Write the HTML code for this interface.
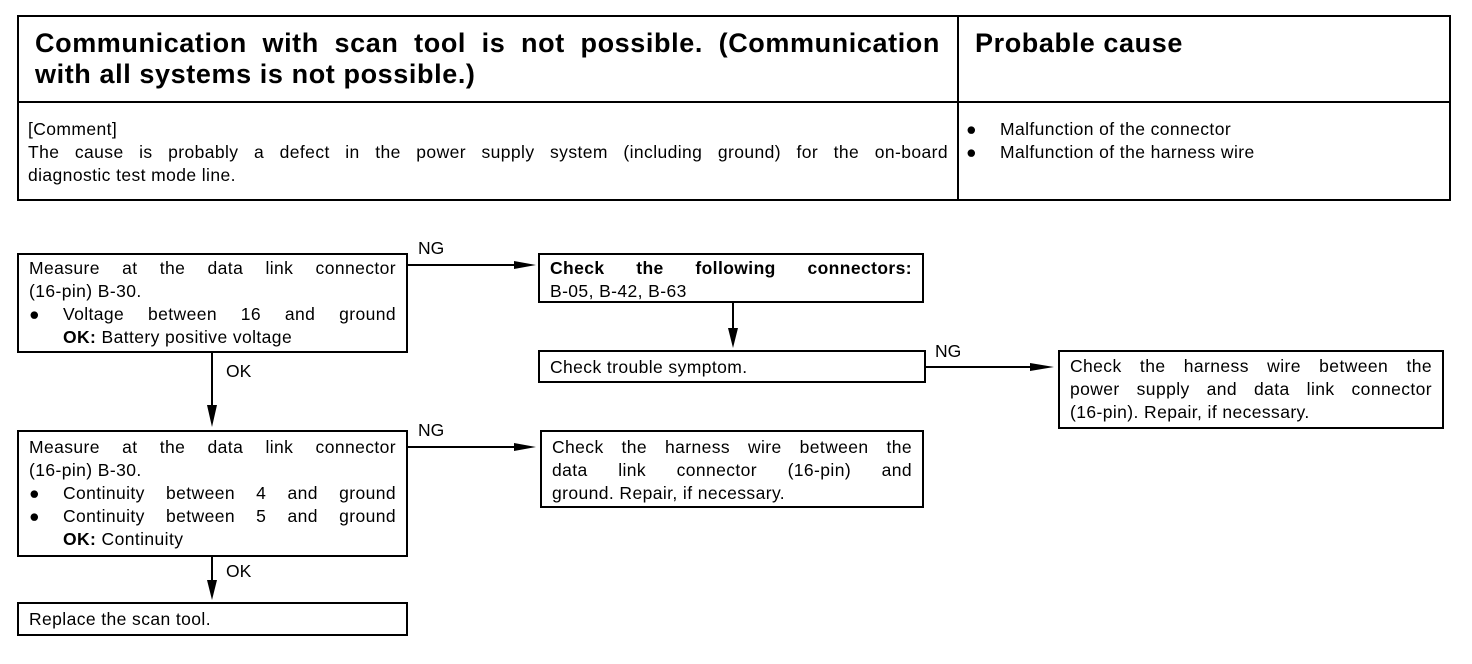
<!DOCTYPE html>
<html><head><meta charset="utf-8"><style>
*{margin:0;padding:0;box-sizing:border-box}
body{width:1472px;height:664px;background:#fff;position:relative;font-family:"Liberation Sans",Arial,sans-serif;color:#000;overflow:hidden}
.a{position:absolute}
.b{position:absolute;border:2px solid #000;background:#fff;font-size:17.5px;letter-spacing:0.4px;line-height:23px;padding:2px 10px 0 10px;text-align:justify}
.j{text-align:justify;text-align-last:justify}
.l{position:absolute;background:#000}
.t{position:absolute;font-size:17.5px}
.bul{display:flex}
.bul span:first-child{width:34px;flex:none}
</style></head><body>
<div class="a" style="left:17px;top:15px;width:1434px;height:186px;border:2px solid #000"></div>
<div class="l" style="left:17px;top:101px;width:1434px;height:2px"></div>
<div class="l" style="left:957px;top:15px;width:2px;height:186px"></div>
<div class="a" style="left:35px;top:28px;width:905px;font-size:27px;letter-spacing:0.6px;line-height:31px;font-weight:bold">
<div class="j">Communication with scan tool is not possible. (Communication</div>
<div>with all systems is not possible.)</div></div>
<div class="a" style="left:975px;top:28px;font-size:27px;letter-spacing:0.6px;line-height:31px;font-weight:bold">Probable cause</div>
<div class="a" style="left:28px;top:118px;width:920px;font-size:17.5px;letter-spacing:0.4px;line-height:23px">
<div>[Comment]</div>
<div class="j">The cause is probably a defect in the power supply system (including ground) for the on-board</div>
<div>diagnostic test mode line.</div></div>
<div class="a" style="left:966px;top:118px;font-size:17.5px;letter-spacing:0.4px;line-height:23px">
<div class="bul"><span>●</span><span>Malfunction of the connector</span></div>
<div class="bul"><span>●</span><span>Malfunction of the harness wire</span></div></div>

<div class="b" style="left:17px;top:253px;width:391px;height:100px">
<div class="j">Measure at the data link connector</div>
<div>(16-pin) B-30.</div>
<div class="bul"><span>●</span><span class="j" style="flex:1">Voltage between 16 and ground</span></div>
<div style="padding-left:34px"><b>OK:</b> Battery positive voltage</div></div>
<div class="t" style="left:418px;top:238px">NG</div>
<div class="l" style="left:408px;top:264px;width:120px;height:1.5px"></div>
<svg class="a" style="left:514px;top:259px" width="24" height="12"><polygon points="0,2 22,6 0,10" fill="#000"/></svg>

<div class="b" style="left:538px;top:253px;width:386px;height:50px">
<div class="j"><b>Check the following connectors:</b></div>
<div>B-05, B-42, B-63</div></div>
<div class="l" style="left:732px;top:303px;width:1.5px;height:40px"></div>
<svg class="a" style="left:727px;top:328px" width="12" height="22"><polygon points="1,0 6,20 11,0" fill="#000"/></svg>

<div class="b" style="left:538px;top:350px;width:388px;height:33px;padding-top:4px">Check trouble symptom.</div>
<div class="t" style="left:935px;top:341px">NG</div>
<div class="l" style="left:926px;top:366px;width:110px;height:1.5px"></div>
<svg class="a" style="left:1030px;top:361px" width="26" height="12"><polygon points="0,2 24,6 0,10" fill="#000"/></svg>

<div class="b" style="left:1058px;top:350px;width:386px;height:79px;padding-top:3px">
<div class="j">Check the harness wire between the</div>
<div class="j">power supply and data link connector</div>
<div>(16-pin). Repair, if necessary.</div></div>

<div class="l" style="left:211px;top:353px;width:1.5px;height:60px"></div>
<svg class="a" style="left:206px;top:405px" width="12" height="24"><polygon points="1,0 6,22 11,0" fill="#000"/></svg>
<div class="t" style="left:226px;top:361px">OK</div>

<div class="b" style="left:17px;top:430px;width:391px;height:127px;padding-top:4px">
<div class="j">Measure at the data link connector</div>
<div>(16-pin) B-30.</div>
<div class="bul"><span>●</span><span class="j" style="flex:1">Continuity between 4 and ground</span></div>
<div class="bul"><span>●</span><span class="j" style="flex:1">Continuity between 5 and ground</span></div>
<div style="padding-left:34px"><b>OK:</b> Continuity</div></div>
<div class="t" style="left:418px;top:420px">NG</div>
<div class="l" style="left:408px;top:446px;width:120px;height:1.5px"></div>
<svg class="a" style="left:514px;top:441px" width="24" height="12"><polygon points="0,2 22,6 0,10" fill="#000"/></svg>

<div class="b" style="left:540px;top:430px;width:384px;height:78px;padding-top:4px">
<div class="j">Check the harness wire between the</div>
<div class="j">data link connector (16-pin) and</div>
<div>ground. Repair, if necessary.</div></div>

<div class="l" style="left:211px;top:557px;width:1.5px;height:30px"></div>
<svg class="a" style="left:206px;top:580px" width="12" height="22"><polygon points="1,0 6,20 11,0" fill="#000"/></svg>
<div class="t" style="left:226px;top:561px">OK</div>

<div class="b" style="left:17px;top:602px;width:391px;height:34px;padding-top:4px">Replace the scan tool.</div>
</body></html>
